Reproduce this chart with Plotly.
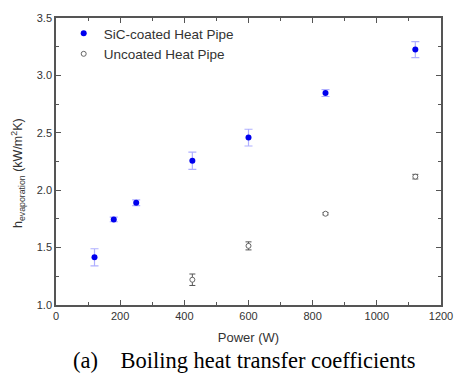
import plotly.graph_objects as go

# Data
sic_power = [120, 180, 250, 425, 600, 840, 1120]
sic_h = [1.415, 1.745, 1.89, 2.257, 2.458, 2.846, 3.225]
sic_err = [0.075, 0.02, 0.025, 0.075, 0.073, 0.03, 0.07]

unc_power = [425, 600, 840, 1120]
unc_h = [1.22, 1.515, 1.795, 2.118]
unc_err = [0.05, 0.035, 0.01, 0.02]

x_ticks = [0, 200, 400, 600, 800, 1000, 1200]
y_ticks = [1.0, 1.5, 2.0, 2.5, 3.0, 3.5]

fig = go.Figure()
fig.add_trace(go.Scatter(
    x=sic_power, y=sic_h, mode="markers", name="SiC-coated Heat Pipe",
    marker=dict(color="#0000ee", size=6, symbol="circle"),
    error_y=dict(type="data", array=sic_err, color="rgba(110,110,255,0.55)", thickness=1.2, width=4),
))
fig.add_trace(go.Scatter(
    x=unc_power, y=unc_h, mode="markers", name="Uncoated Heat Pipe",
    marker=dict(color="white", size=5, symbol="circle", line=dict(color="#666666", width=1)),
    error_y=dict(type="data", array=unc_err, color="#555555", thickness=1, width=3),
))

axis_common = dict(
    showline=True, linecolor="#555555", linewidth=1.5, mirror="ticks",
    ticks="inside", ticklen=5, tickwidth=1.2, tickcolor="#555555",
    showgrid=False, zeroline=False,
    tickfont=dict(family="Liberation Sans, Arial", size=11, color="#333333"),
)

fig.update_xaxes(
    range=[0, 1200], tickvals=x_ticks, ticktext=[str(v) for v in x_ticks],
    minor=dict(dtick=100, ticks="inside", ticklen=3, tickcolor="#555555", showgrid=False),
    title=dict(text="Power (W)", font=dict(family="Liberation Sans, Arial", size=13, color="#333333"), standoff=12),
    **axis_common,
)
fig.update_yaxes(
    range=[1.0, 3.5], tickvals=y_ticks, ticktext=[f"{v:.1f}" for v in y_ticks],
    minor=dict(dtick=0.25, ticks="inside", ticklen=3, tickcolor="#555555", showgrid=False),
    **axis_common,
)

# y-axis title as annotation (positioned like the reference)
fig.add_annotation(
    text="h<sub>evaporation</sub> (kW/m<sup>2</sup>K)",
    xref="paper", yref="paper", x=0, y=0.46, xanchor="center", yanchor="middle",
    xshift=-38, textangle=-90, showarrow=False,
    font=dict(family="Liberation Sans, Arial", size=12.5, color="#333333"),
)

fig.add_annotation(
    text="(a)\u00a0\u00a0\u00a0\u00a0Boiling heat transfer coefficients",
    xref="paper", yref="paper", x=0.49, y=0, yanchor="middle", yshift=-55,
    showarrow=False, font=dict(family="Liberation Serif, Times New Roman", size=22.5, color="black"),
)

fig.update_layout(
    width=465, height=378,
    margin=dict(l=56, r=13, t=14, b=73),
    paper_bgcolor="white", plot_bgcolor="white",
    legend=dict(x=0.02, y=1.0, xanchor="left", yanchor="top",
                font=dict(family="Liberation Sans, Arial", size=13.5, color="#333333"),
                bgcolor="rgba(0,0,0,0)", tracegroupgap=0),
    showlegend=True,
)

fig.write_html("out.html")
